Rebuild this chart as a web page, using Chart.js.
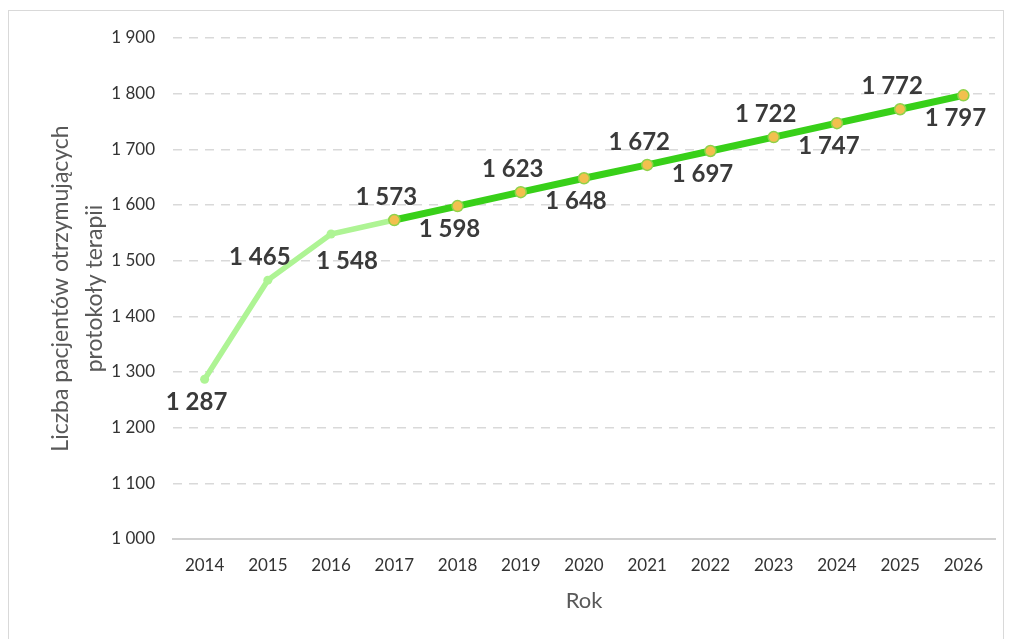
<!DOCTYPE html>
<html>
<head>
<meta charset="utf-8">
<script src="https://cdn.jsdelivr.net/npm/chart.js@4/dist/chart.umd.min.js"></script>
<style>
  html, body { margin: 0; padding: 0; background: #fff; }
  #frame { position: absolute; left: 8px; top: 10px; width: 996px; height: 640px; border: 1px solid #d9d9d9; box-sizing: border-box; }
  #wrap { position: absolute; left: 0; top: 0; width: 1010px; height: 639px; }
</style>
</head>
<body>
<div id="frame"></div>
<div id="wrap"><canvas id="c" width="1010" height="639"></canvas></div>
<script>
const years = ['2014','2015','2016','2017','2018','2019','2020','2021','2022','2023','2024','2025','2026'];
const historical = [1287, 1465, 1548, 1573, null, null, null, null, null, null, null, null, null];
const forecast = [null, null, null, 1573, 1598, 1623, 1648, 1672, 1697, 1722, 1747, 1772, 1797];
const yTicks = [1000, 1100, 1200, 1300, 1400, 1500, 1600, 1700, 1800, 1900];
const yTitle = ['Liczba pacjentów otrzymujących', 'protokoły terapii'];
const xTitle = 'Rok';

const fmt = v => String(v).replace(/\B(?=(\d{3})+(?!\d))/g, ' ');

const labelPlugin = {
  id: 'pointLabels',
  afterDatasetsDraw(chart) {
    const ctx = chart.ctx;
    ctx.save();
    ctx.font = 'bold 24px Lato';
    ctx.fillStyle = '#3a3a3a';
    ctx.textAlign = 'center';
    ctx.textBaseline = 'middle';
    const xs = chart.scales.x, ys = chart.scales.y;
    years.forEach((yr, i) => {
      const v = (i <= 2) ? historical[i] : forecast[i];
      if (v == null) return;
      const px = xs.getPixelForValue(i);
      const py = ys.getPixelForValue(v);
      const above = (i % 2 === 1);
      let dx = -8, dy = above ? -23 : 23;
      if (i === 2) { dx = 16; dy = 27; }
      ctx.fillText(fmt(v), px + dx, py + dy);
    });
    ctx.restore();
  }
};

new Chart(document.getElementById('c'), {
  type: 'line',
  data: {
    labels: years,
    datasets: [
      {
        label: 'historical',
        data: historical,
        borderColor: '#aef494',
        backgroundColor: '#aef494',
        borderWidth: 5.5,
        pointRadius: 4.5,
        pointBorderWidth: 0,
        tension: 0,
        order: 2
      },
      {
        label: 'forecast',
        data: forecast,
        borderColor: '#38d019',
        backgroundColor: '#f2c04e',
        borderWidth: 7,
        pointRadius: 5.5,
        pointBorderColor: '#8fd24a',
        pointBorderWidth: 1.5,
        tension: 0,
        order: 1
      }
    ]
  },
  options: {
    responsive: false,
    animation: false,
    devicePixelRatio: 1,
    spanGaps: false,
    layout: { padding: { top: 38, right: 15, left: 0, bottom: 0 } },
    plugins: { legend: { display: false }, tooltip: { enabled: false } },
    scales: {
      x: {
        offset: true,
        grid: { display: false, drawTicks: false },
        border: { display: true, color: '#d0d0d0', width: 2 },
        ticks: { color: '#333', font: { family: 'Lato', size: 17 }, padding: 16, maxRotation: 0 },
        title: { display: true, text: xTitle, color: '#595959', font: { family: 'Lato', size: 22 }, padding: { top: 0, bottom: 25 } },
        afterFit(s) { s.height = 100; }
      },
      y: {
        min: 1000, max: 1900,
        afterBuildTicks(s) { s.ticks = yTicks.map(v => ({ value: v })); },
        grid: { color: '#d9d9d9', lineWidth: 1.5, drawTicks: false },
        border: { display: false, dash: [9, 7] },
        ticks: { color: '#333', font: { family: 'Lato', size: 17 }, padding: 18, callback: v => fmt(v) },
        title: { display: true, text: yTitle, color: '#595959', font: { family: 'Lato', size: 23, lineHeight: 1.5 }, padding: { top: 43, bottom: 0 } },
        afterFit(s) { s.width = 173; }
      }
    }
  },
  plugins: [labelPlugin]
});
</script>
</body>
</html>
